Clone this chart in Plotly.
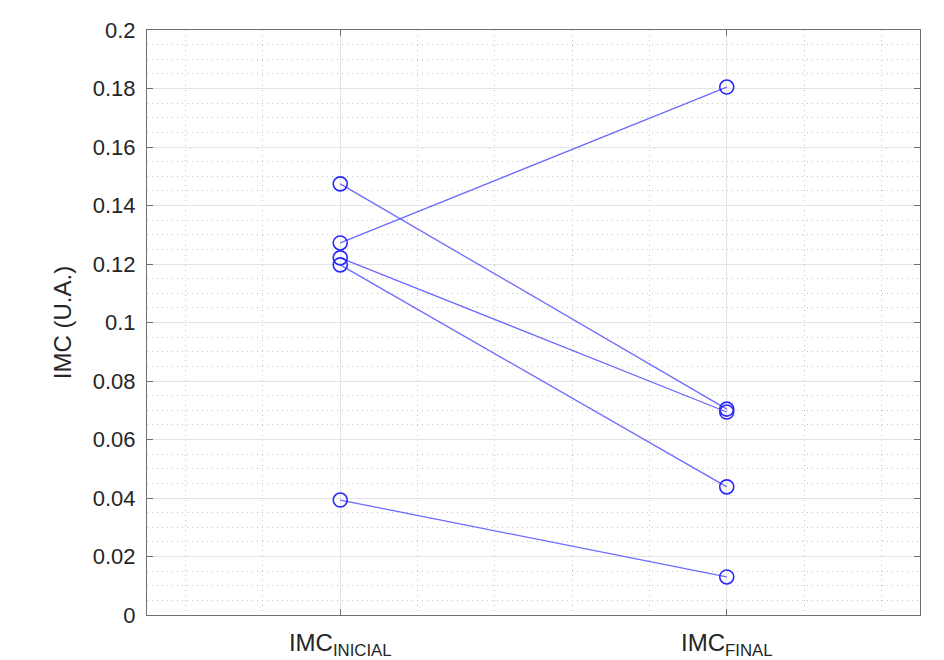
import plotly.graph_objects as go

categories = ["IMC<sub>INICIAL</sub>", "IMC<sub>FINAL</sub>"]
x_pos = [1, 2]
imc_inicial = [0.1474, 0.1272, 0.1221, 0.1197, 0.0393]
imc_final = [0.0704, 0.1805, 0.0694, 0.0438, 0.0130]
y_ticks = [0, 0.02, 0.04, 0.06, 0.08, 0.1, 0.12, 0.14, 0.16, 0.18, 0.2]
y_ticktext = ["0", "0.02", "0.04", "0.06", "0.08", "0.1", "0.12", "0.14", "0.16", "0.18", "0.2"]

fig = go.Figure()
for a, b in zip(imc_inicial, imc_final):
    fig.add_trace(go.Scatter(
        x=x_pos, y=[a, b], mode="lines",
        line=dict(color="rgba(70,70,255,0.8)", width=1.3),
        showlegend=False, hoverinfo="skip"))
    fig.add_trace(go.Scatter(
        x=x_pos, y=[a, b], mode="markers",
        marker=dict(symbol="circle-open", size=14, color="rgb(40,40,255)",
                    line=dict(width=1.6, color="rgb(40,40,255)")),
        showlegend=False))

axis_col = "rgb(110,110,110)"
fig.update_layout(
    width=944, height=660,
    margin=dict(l=147, r=24, t=30, b=45),
    paper_bgcolor="white", plot_bgcolor="white",
    font=dict(family="Arial, Liberation Sans, sans-serif", color="rgb(38,38,38)"),
    xaxis=dict(
        range=[0.5, 2.5], tickmode="array", tickvals=x_pos, ticktext=categories,
        tickfont=dict(size=24), ticklabelstandoff=6, automargin=False,
        showline=True, linecolor=axis_col, linewidth=1.2,
        mirror="ticks", ticks="inside", ticklen=6, tickcolor=axis_col,
        showgrid=True, gridcolor="rgb(228,228,228)", gridwidth=1, zeroline=False,
        minor=dict(tickmode="linear", tick0=0, dtick=0.2, showgrid=True,
                   gridcolor="rgb(195,195,195)", griddash="1px,4px", gridwidth=1, ticklen=0),
    ),
    yaxis=dict(
        range=[0, 0.2], tickmode="array", tickvals=y_ticks, ticktext=y_ticktext,
        tickfont=dict(size=22), ticklabelstandoff=6, automargin=False,
        showline=True, linecolor=axis_col, linewidth=1.2,
        mirror="ticks", ticks="inside", ticklen=6, tickcolor=axis_col,
        showgrid=True, gridcolor="rgb(228,228,228)", gridwidth=1, zeroline=False,
        title=dict(text="IMC (U.A.)", font=dict(size=24), standoff=14),
        minor=dict(tickmode="linear", tick0=0, dtick=0.005, showgrid=True,
                   gridcolor="rgb(195,195,195)", griddash="1px,4px", gridwidth=1, ticklen=0),
    ),
)
fig.write_html("out.html")
